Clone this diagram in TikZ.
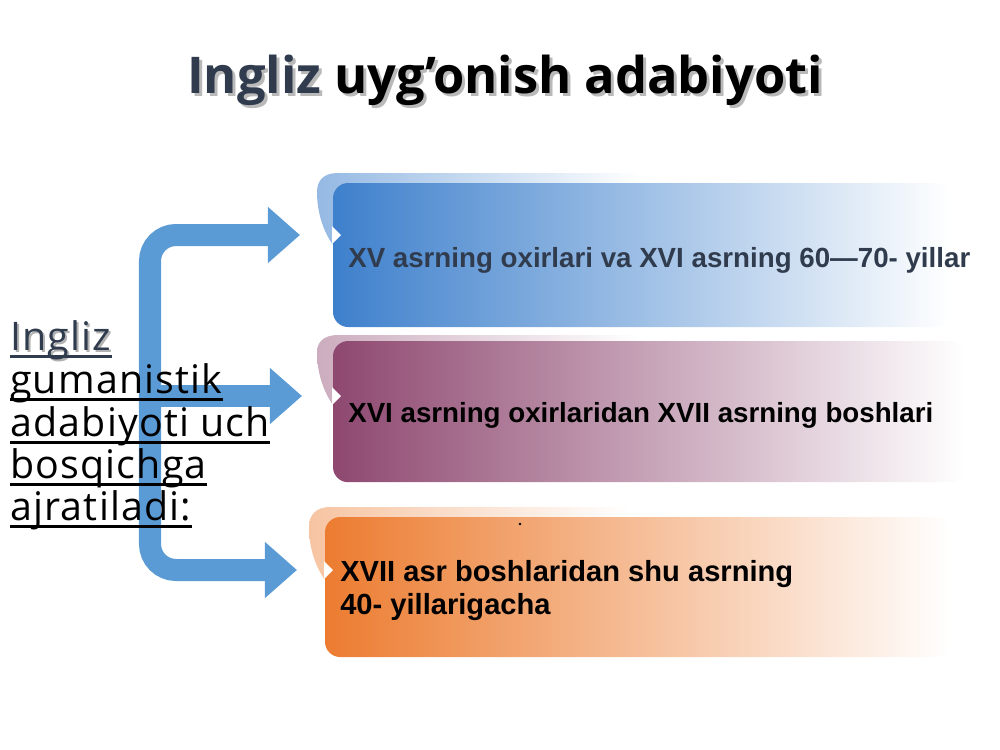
\documentclass[tikz,border=0pt]{standalone}
\usepackage{fontspec}
\setmainfont{Liberation Sans}
\newfontfamily\headfont{Open Sans}
\newfontfamily\sidefont[LetterSpace=3]{Open Sans}
\usetikzlibrary{positioning,arrows.meta}

\definecolor{arrowblue}{RGB}{91,155,213}
\definecolor{boxblue}{RGB}{62,128,204}
\definecolor{boxplum}{RGB}{142,72,112}
\definecolor{boxorange}{RGB}{236,124,48}
\definecolor{slate}{RGB}{48,60,78}

\tikzset{
	stage/.style={rounded corners=0.38cm,inner sep=0,outer sep=0,anchor=north west},
	notch/.style={fill=white},
	branch/.style={draw=arrowblue,line width=0.55cm,-{Triangle[width=1.35cm,length=0.8cm]}},
	period/.style={anchor=base west,inner sep=0,align=left,font=\fontsize{19.7}{23.5}\selectfont\bfseries},
	sideline/.style={anchor=base west,inner sep=0,font=\sidefont\fontsize{28}{30}\selectfont},
	uline/.style={line width=0.07cm}
}

\begin{document}
\begin{tikzpicture}[x=0.025cm,y=-0.025cm]
	\useasboundingbox (0,0) rectangle (1000,750);

	% title
	\node[anchor=base,inner sep=0,text=gray!55,font=\headfont\bfseries\fontsize{36}{40}\selectfont] (titleshadow) at (508,96) {Ingliz uyg’onish adabiyoti};
	\node[anchor=base,inner sep=0,font=\headfont\bfseries\fontsize{36}{40}\selectfont] (title) at (505,93) {\textcolor{slate}{Ingliz} uyg’onish adabiyoti};

	% back curls
	\shade[left color=boxblue!55,right color=white] (333,245) .. controls (321,228) and (317,208) .. (317,192) .. controls (317,180) and (324,173) .. (338,173) -- (640,173) -- (640,200) -- (333,200) -- cycle;
	\shade[left color=boxplum!45,right color=white] (333,405) .. controls (321,388) and (317,368) .. (317,352) .. controls (317,342) and (324,335) .. (338,335) -- (640,335) -- (640,360) -- (333,360) -- cycle;
	\shade[left color=boxorange!45,right color=white] (325,580) .. controls (313,563) and (309,543) .. (309,527) .. controls (309,515) and (316,507) .. (330,507) -- (630,507) -- (630,535) -- (325,535) -- cycle;

	% stage boxes
	\node[stage,left color=boxblue,middle color=boxblue!62,right color=white,minimum width=15.45cm,minimum height=3.6cm] (b1) at (333,183) {};
	\node[stage,left color=boxplum,middle color=boxplum!62,right color=white,minimum width=15.8cm,minimum height=3.53cm] (b2) at (333,341) {};
	\node[stage,left color=boxorange,middle color=boxorange!70,right color=white,minimum width=15.65cm,minimum height=3.5cm] (b3) at (325,517) {};
	\fill[notch] (332,226) -- (341,235) -- (332,244) -- cycle;
	\fill[notch] (332,387) -- (341,396) -- (332,405) -- cycle;
	\fill[notch] (324,561) -- (333,570) -- (324,579) -- cycle;
	\fill (520,524) circle (1.4);

	\node[period,text=slate] (t1) at (348,267) {XV asrning oxirlari va XVI asrning 60—70- yillar};
	\node[period] (t2) at (348,422) {XVI asrning oxirlaridan XVII asrning boshlari};
	\node[period,anchor=west,font=\fontsize{20.7}{23.5}\selectfont\bfseries] (t3) at (340,591) {XVII asr boshlaridan shu asrning\\40- yillarigacha};

	% arrows
	\coordinate (fork) at (150,396);
	\coordinate (tip1) at (300,235);
	\coordinate (tip2) at (302,396);
	\coordinate (tip3) at (297,570);
	\draw[branch] (fork) [rounded corners=0.65cm] |- (tip1);
	\draw[branch] (fork) [rounded corners=0.65cm] |- (tip3);
	\draw[branch] (fork) -- (tip2);

	% left text
	\node[sideline,text=gray!60] (l1s) at (12,352) {Ingliz};
	\node[sideline,text=slate] (l1) at (10,350) {Ingliz};
	\node[sideline] (l2) at (10,393) {gumanistik};
	\node[sideline] (l3) at (10,436) {adabiyoti uch};
	\node[sideline] (l4) at (10,478) {bosqichga};
	\node[sideline] (l5) at (10,520) {ajratiladi:};
	\draw[uline,slate] ([yshift=-0.17cm]l1.base west) -- ([yshift=-0.17cm]l1.base east);
	\draw[uline] ([yshift=-0.17cm]l2.base west) -- ([yshift=-0.17cm]l2.base east);
	\draw[uline] ([yshift=-0.17cm]l3.base west) -- ([yshift=-0.17cm]l3.base east);
	\draw[uline] ([yshift=-0.17cm]l4.base west) -- ([yshift=-0.17cm]l4.base east);
	\draw[uline] ([yshift=-0.17cm]l5.base west) -- ([yshift=-0.17cm]l5.base east);
\end{tikzpicture}
\end{document}
